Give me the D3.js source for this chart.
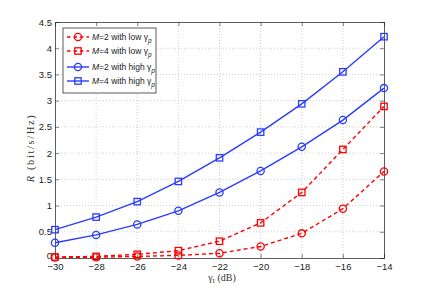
<!DOCTYPE html>
<html><head><meta charset="utf-8">
<script src="https://cdn.jsdelivr.net/npm/d3@7"></script>
<style>body{margin:0;background:#fff}svg{display:block}</style>
</head><body>
<script>
const xValues = [-30,-28,-26,-24,-22,-20,-18,-16,-14];
const m2Low  = [0.01,0.015,0.03,0.05,0.09,0.22,0.47,0.94,1.65];
const m4Low  = [0.02,0.03,0.07,0.14,0.32,0.67,1.25,2.07,2.89];
const m2High = [0.29,0.44,0.64,0.90,1.25,1.66,2.12,2.63,3.24];
const m4High = [0.54,0.78,1.075,1.46,1.91,2.40,2.94,3.55,4.22];
const xTicks = [-30,-28,-26,-24,-22,-20,-18,-16,-14];
const yTicks = [0,0.5,1,1.5,2,2.5,3,3.5,4,4.5];
const seriesNames = ["M=2 with low γp","M=4 with low γp","M=2 with high γp","M=4 with high γp"];

const W=424,H=291;
const L=55,R=384,T=22,B=258;
const svg=d3.select("body").append("svg").attr("width",W).attr("height",H);
const x=d3.scaleLinear().domain([-30,-14]).range([L,R]);
const y=d3.scaleLinear().domain([0,4.5]).range([B,T]);

// grid
const g=svg.append("g");
xTicks.forEach(v=>{ if(v>-30&&v<-14) g.append("line").attr("x1",x(v)).attr("x2",x(v)).attr("y1",T).attr("y2",B).attr("stroke","#bbb").attr("stroke-width",0.7).attr("stroke-dasharray","1,2");});
yTicks.forEach(v=>{ if(v>0&&v<4.5) g.append("line").attr("x1",L).attr("x2",R).attr("y1",y(v)).attr("y2",y(v)).attr("stroke","#bbb").attr("stroke-width",0.7).attr("stroke-dasharray","1,2");});

// axes
const font="Liberation Sans, Arial, sans-serif";
const ax=svg.append("g").attr("transform",`translate(0,${B})`).call(d3.axisBottom(x).tickValues(xTicks).tickSize(-4).tickPadding(5).tickFormat(d=>d<0?"\u2212"+Math.abs(d):d));
const ay=svg.append("g").attr("transform",`translate(${L},0)`).call(d3.axisLeft(y).tickValues(yTicks).tickSize(-4).tickPadding(3).tickFormat(d=>d));
const axT=svg.append("g").attr("transform",`translate(0,${T})`).call(d3.axisTop(x).tickValues(xTicks).tickSize(-4).tickFormat(""));
const ayR=svg.append("g").attr("transform",`translate(${R},0)`).call(d3.axisRight(y).tickValues(yTicks).tickSize(-4).tickFormat(""));
[ax,ay,axT,ayR].forEach(a=>{a.select(".domain").attr("stroke","#333").attr("stroke-width",0.8);a.selectAll(".tick line").attr("stroke","#333").attr("stroke-width",0.6);a.selectAll("text").attr("font-family",font).attr("font-size",9.5).attr("fill","#222");});
ay.selectAll(".tick").filter(d=>d===0).select("text").attr("dy","0.05em");

// series
const lineGen=d3.line().x((d,i)=>x(xValues[i])).y(d=>y(d));
const series=[
 {v:m2Low,c:"#ff0000",dash:"4,3",m:"circle"},
 {v:m4Low,c:"#ff0000",dash:"4,3",m:"square"},
 {v:m2High,c:"#2a3cff",dash:null,m:"circle"},
 {v:m4High,c:"#2a3cff",dash:null,m:"square"}];
function marker(sel,type,cx,cy,c){
  if(type==="circle") sel.append("circle").attr("cx",cx).attr("cy",cy).attr("r",3.6).attr("fill","none").attr("stroke",c).attr("stroke-width",1.3);
  else sel.append("rect").attr("x",cx-3.2).attr("y",cy-3.2).attr("width",6.4).attr("height",6.4).attr("fill","none").attr("stroke",c).attr("stroke-width",1.3);
}
const pl=svg.append("g");
series.forEach(s=>{
  pl.append("path").attr("d",lineGen(s.v)).attr("fill","none").attr("stroke",s.c).attr("stroke-width",1.4).attr("stroke-dasharray",s.dash);
  s.v.forEach((d,i)=>marker(pl,s.m,x(xValues[i]),y(d),s.c));
});

// legend
const lg=svg.append("g");
lg.append("rect").attr("x",63).attr("y",28).attr("width",93).attr("height",65).attr("fill","#fff").attr("stroke","#333").attr("stroke-width",0.8);
const ly=[37,51,67,81];
series.forEach((s,i)=>{
  lg.append("line").attr("x1",67).attr("x2",89).attr("y1",ly[i]).attr("y2",ly[i]).attr("stroke",s.c).attr("stroke-width",1.4).attr("stroke-dasharray",s.dash?"3.5,3":null);
  marker(lg,s.m,78,ly[i],s.c);
  const t=lg.append("text").attr("x",92).attr("y",ly[i]+3).attr("font-family",font).attr("font-size",8.5).attr("fill","#222");
  const parts=seriesNames[i].split(" with ");
  t.append("tspan").attr("font-style","italic").text(parts[0].split("=")[0]);
  t.append("tspan").text("="+parts[0].split("=")[1]+" with "+parts[1].slice(0,-2)+"γ");
  t.append("tspan").attr("font-size",6.5).attr("dy",2.5).attr("font-style","italic").text("p");
});

// axis labels
const serif="Liberation Serif, Times New Roman, serif";
const xl=svg.append("text").attr("x",222).attr("y",281).attr("text-anchor","middle").attr("font-family",serif).attr("font-size",10).attr("fill","#333");
xl.append("tspan").text("γ");
xl.append("tspan").attr("font-size",7).attr("dy",2).text("I");
xl.append("tspan").attr("dy",-2).text(" (dB)");
const yl=svg.append("text").attr("transform","translate(34,148) rotate(-90)").attr("text-anchor","middle").attr("font-family",serif).attr("font-size",10.5).attr("letter-spacing",1.6).attr("fill","#333");
yl.append("tspan").attr("font-style","italic").text("R");
yl.append("tspan").text(" (bit/s/Hz)");
</script>
</body></html>
